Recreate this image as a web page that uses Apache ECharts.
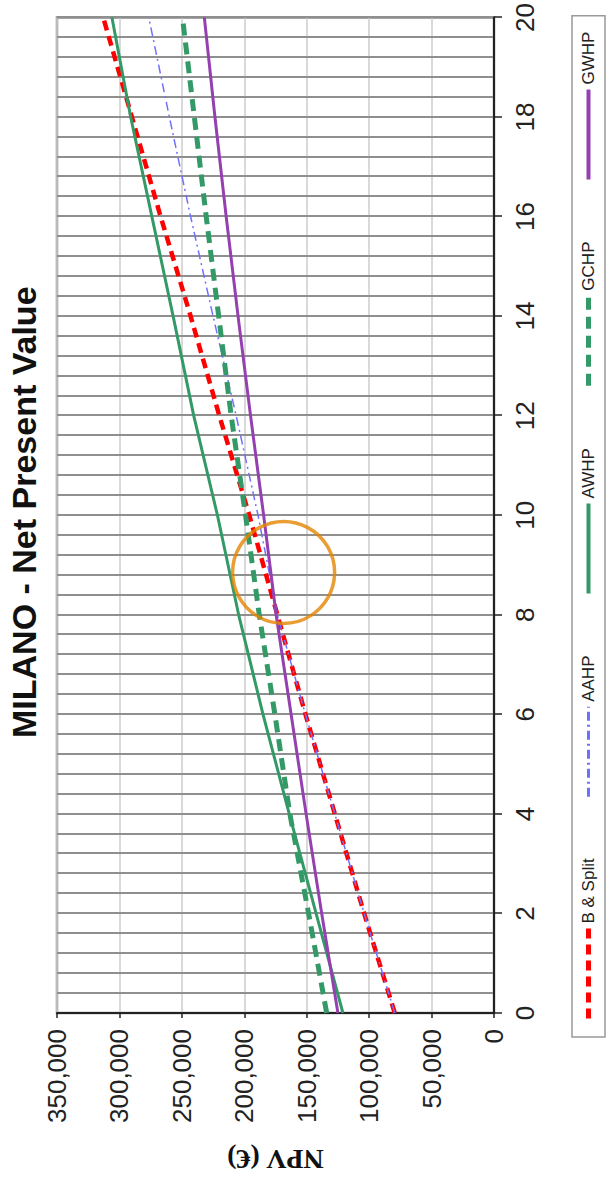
<!DOCTYPE html>
<html>
<head>
<meta charset="utf-8">
<script src="https://cdn.jsdelivr.net/npm/echarts@6/dist/echarts.min.js"></script>
<style>
html,body{margin:0;padding:0;background:#fff;overflow:hidden;width:609px;height:1187px;}
#chart{position:absolute;left:0;top:0;width:1187px;height:609px;transform-origin:0 0;transform:translate(0,1187px) rotate(-90deg);}
</style>
</head>
<body>
<div id="chart"></div>
<script>
// Years (x) and NPV values in EUR (y)
const years   = [0, 2, 4, 6, 8, 10, 12, 14, 16, 18, 20];
const bSplit  = [79500, 104000, 127500, 151000, 173500, 196000, 220000, 243000, 267000, 290000, 313000];
const aahp    = [79500, 104000, 127500, 151000, 173500, 189000, 206500, 225000, 243000, 260000, 276500];
const awhp    = [121000, 142500, 164000, 185000, 204500, 221500, 240500, 257000, 274000, 291000, 306000];
const gchp    = [134000, 148500, 163500, 175500, 188000, 199000, 210500, 220500, 230500, 240000, 249500];
const gwhp    = [125000, 138000, 150500, 162500, 174500, 184500, 195000, 205000, 214500, 223500, 232000];
const seriesNames = ['B & Split', 'AAHP', 'AWHP', 'GCHP', 'GWHP'];
const circleAt = [8.85, 168500];
const titleText = 'MILANO - Net Present Value';
const yAxisName = 'NPV (€)';

const pts = arr => years.map((y, i) => [y, arr[i]]);
const SANS = "'Liberation Sans', Arial, sans-serif";

const styles = [
  {color: '#ff0000', width: 4.5, type: [10, 6], legendWidth: 5},
  {color: '#7070ff', width: 1.5, type: [9, 4, 2, 4], legendWidth: 3},
  {color: '#339966', width: 3, type: 'solid', legendWidth: 4},
  {color: '#339966', width: 5, type: [12, 7], legendWidth: 5},
  {color: '#9440b0', width: 3, type: 'solid', legendWidth: 4}
];
const seriesData = [bSplit, aahp, awhp, gchp, gwhp];

const chart = echarts.init(document.getElementById('chart'), null, {renderer: 'svg'});
chart.setOption({
  animation: false,
  backgroundColor: '#ffffff',
  title: {
    text: titleText,
    left: 449, top: 7, padding: 0,
    textStyle: {fontSize: 34, fontWeight: 'bold', fontFamily: SANS, color: '#111'}
  },
  legend: {
    data: seriesNames.map((n, i) => ({
      name: n,
      itemStyle: {opacity: 0, borderWidth: 0},
      lineStyle: {width: styles[i].legendWidth, type: styles[i].type, color: styles[i].color, opacity: 1}
    })),
    left: 150, bottom: 4,
    orient: 'horizontal',
    padding: [8, 16],
    itemGap: 60,
    itemWidth: 90, itemHeight: 14,
    borderColor: '#999', borderWidth: 1.5,
    textStyle: {fontSize: 17, fontFamily: SANS, color: '#222'}
  },
  grid: {left: 174, right: 13, top: 57, bottom: 115, show: true, borderColor: '#888', borderWidth: 2.5},
  xAxis: {
    type: 'value', min: 0, max: 20, interval: 2,
    axisLine: {lineStyle: {color: '#222', width: 2}},
    axisTick: {show: true, length: 8, lineStyle: {color: '#222', width: 1.5}},
    axisLabel: {fontSize: 26, margin: 18, color: '#222', fontFamily: SANS},
    splitLine: {show: true, lineStyle: {color: '#8f8f8f', width: 2}},
    minorTick: {show: false, splitNumber: 5},
    minorSplitLine: {show: true, lineStyle: {color: '#8f8f8f', width: 2}}
  },
  yAxis: {
    type: 'value', min: 0, max: 350000, interval: 50000,
    name: yAxisName, nameLocation: 'middle', nameGap: 132,
    nameTextStyle: {fontFamily: "'Liberation Serif', 'Times New Roman', serif", fontWeight: 'bold', fontSize: 28, color: '#111'},
    axisLine: {show: true, lineStyle: {color: '#222', width: 2}},
    axisTick: {show: true, length: 5, lineStyle: {color: '#222', width: 1.5}},
    axisLabel: {fontSize: 26, margin: 16, color: '#222', fontFamily: SANS},
    splitLine: {show: true, lineStyle: {color: '#cccccc', width: 1.5}}
  },
  series: seriesNames.map((n, i) => ({
    name: n, type: 'line', data: pts(seriesData[i]), symbol: 'none',
    lineStyle: {color: styles[i].color, width: styles[i].width, type: styles[i].type},
    itemStyle: {color: styles[i].color}
  })).concat([{
    name: 'marker', type: 'scatter', data: [circleAt], symbol: 'circle', symbolSize: 102, silent: true, z: 10,
    itemStyle: {color: 'rgba(0,0,0,0)', borderColor: '#e48500', borderWidth: 3.5}
  }])
});
</script>
</body>
</html>
